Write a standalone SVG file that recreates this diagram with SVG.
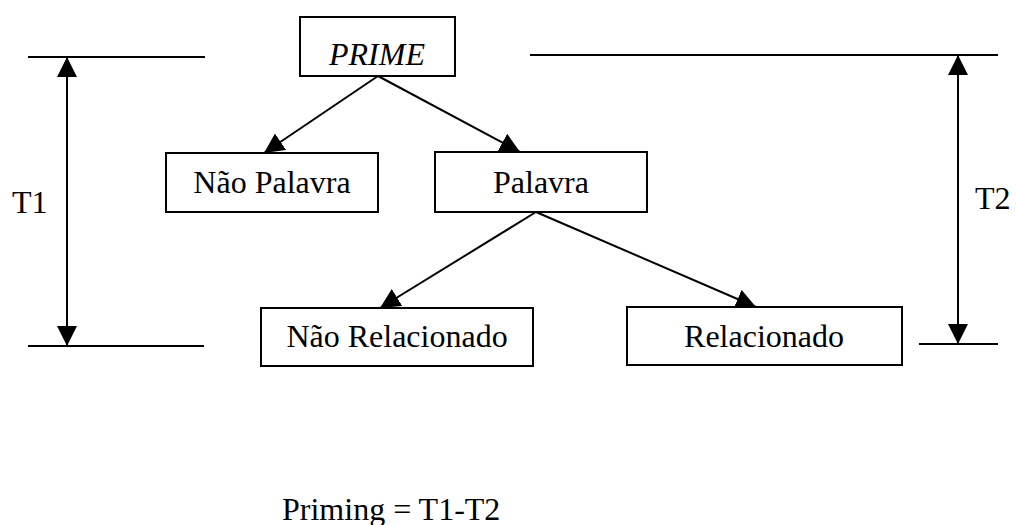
<svg xmlns="http://www.w3.org/2000/svg" width="1016" height="525" viewBox="0 0 1016 525">
  <style>
    .box { fill: #ffffff; stroke: #000000; stroke-width: 2; }
    .lbl { font-family: "Liberation Serif", "Times New Roman", serif; font-size: 32px; fill: #000000; }
    .mid { text-anchor: middle; }
    .edge { stroke: #000000; stroke-width: 2; fill: none; }
    .rule { stroke: #000000; stroke-width: 2; }
  </style>
  <defs>
    <marker id="head" viewBox="0 0 20 20" refX="20" refY="10" markerWidth="20" markerHeight="20" markerUnits="userSpaceOnUse" orient="auto-start-reverse">
      <path d="M0,0 L20,10 L0,20 z" fill="#000000"/>
    </marker>
  </defs>

  <rect width="1016" height="525" fill="#ffffff"/>

  <!-- timing reference rules -->
  <g id="rules">
    <line class="rule" x1="28" y1="57" x2="205" y2="57"/>
    <line class="rule" x1="28" y1="346" x2="204" y2="346"/>
    <line class="rule" x1="530" y1="55" x2="998" y2="55"/>
    <line class="rule" x1="919" y1="344" x2="998" y2="344"/>
  </g>

  <!-- connectors -->
  <g id="connectors">
    <line class="edge" x1="378" y1="76" x2="264" y2="153" marker-end="url(#head)"/>
    <line class="edge" x1="378" y1="76" x2="520" y2="152" marker-end="url(#head)"/>
    <line class="edge" x1="536" y1="212" x2="380" y2="308" marker-end="url(#head)"/>
    <line class="edge" x1="536" y1="212" x2="756" y2="307" marker-end="url(#head)"/>
    <line class="edge" x1="67" y1="57" x2="67" y2="346" marker-start="url(#head)" marker-end="url(#head)"/>
    <line class="edge" x1="958" y1="55" x2="958" y2="344" marker-start="url(#head)" marker-end="url(#head)"/>
  </g>

  <g id="prime">
    <rect class="box" x="300" y="17" width="155" height="59"/>
    <text class="lbl mid" x="377" y="65" font-style="italic">PRIME</text>
  </g>

  <g id="nao-palavra">
    <rect class="box" x="166" y="153" width="212" height="59"/>
    <text class="lbl mid" x="272" y="193">Não Palavra</text>
  </g>

  <g id="palavra">
    <rect class="box" x="435" y="152" width="212" height="60"/>
    <text class="lbl mid" x="541" y="193">Palavra</text>
  </g>

  <g id="nao-relacionado">
    <rect class="box" x="261" y="308" width="272" height="58"/>
    <text class="lbl mid" x="397" y="347">Não Relacionado</text>
  </g>

  <g id="relacionado">
    <rect class="box" x="627" y="307" width="275" height="58"/>
    <text class="lbl mid" x="764" y="347">Relacionado</text>
  </g>

  <g id="labels">
    <text class="lbl" x="12" y="213">T1</text>
    <text class="lbl" x="975" y="209">T2</text>
    <text class="lbl" x="282" y="520">Priming = T1-T2</text>
  </g>
</svg>
